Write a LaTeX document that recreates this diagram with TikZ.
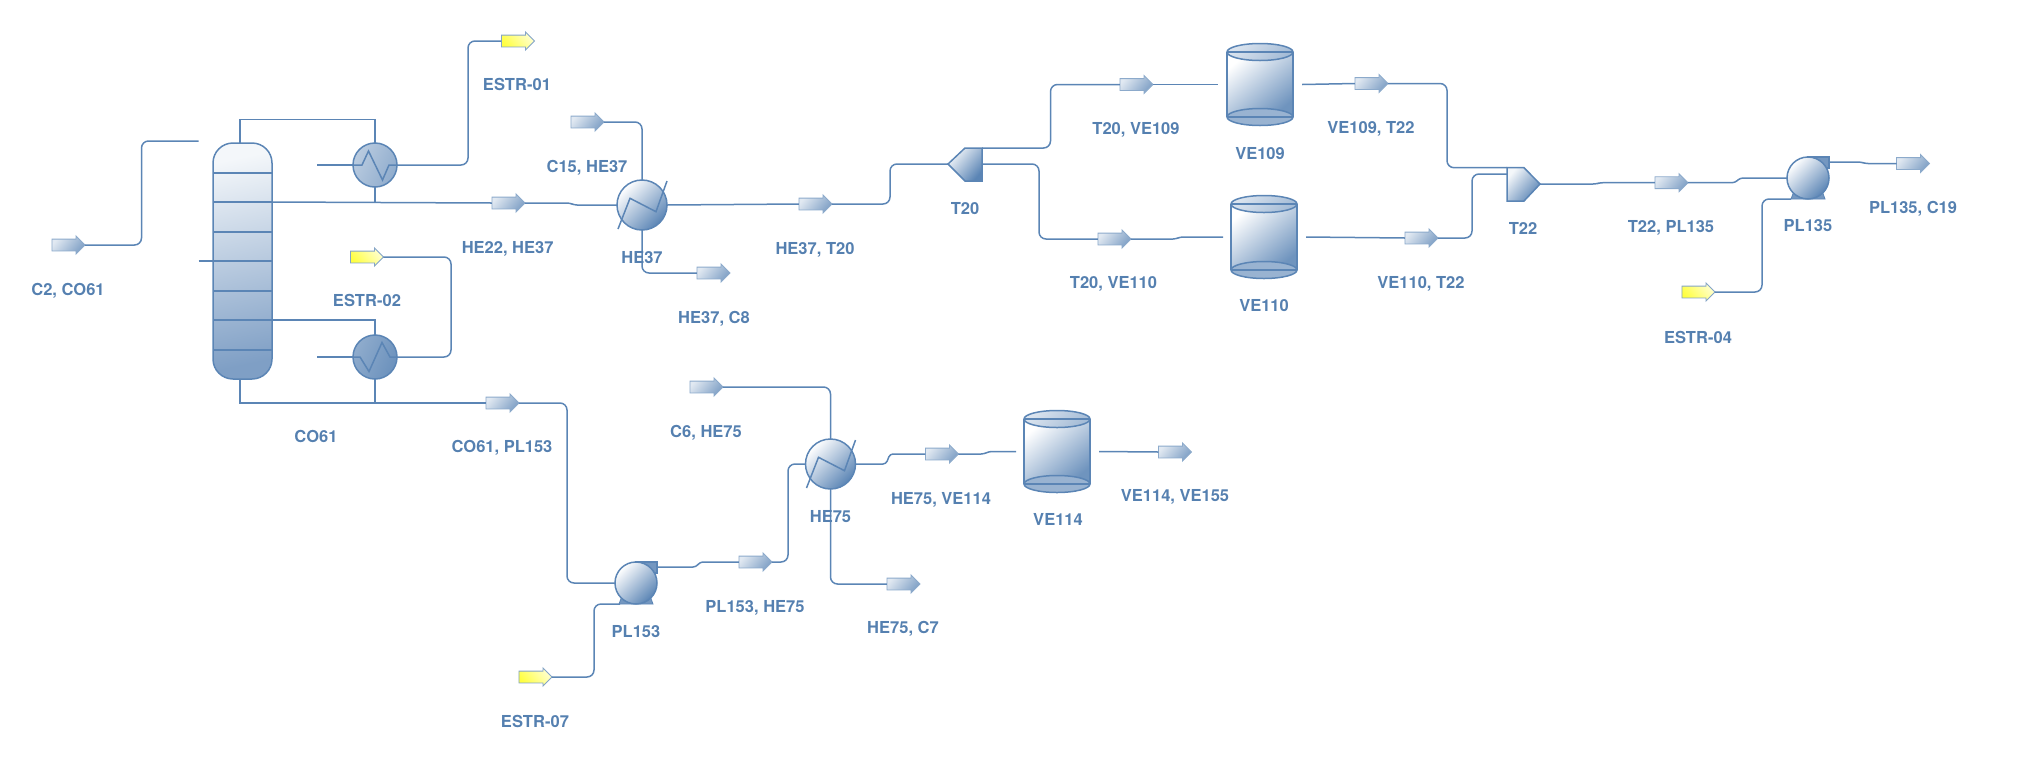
\documentclass[tikz,border=0pt]{standalone}
\usepackage{fontspec}
\setmainfont{TeX Gyre Heros}
\usetikzlibrary{shapes.arrows,calc}
\definecolor{pipec}{HTML}{5B85B5}
\definecolor{txtc}{HTML}{5580B0}
\definecolor{darkb}{HTML}{7F9FC5}
\definecolor{lightb}{HTML}{F4F7FA}
\tikzset{
 pipe/.style={draw=pipec,line width=1.5pt,rounded corners=7pt},
 straight/.style={draw=pipec,line width=1.5pt},
 lbl/.style={font=\fontsize{16.5}{18}\selectfont\bfseries,text=txtc,inner sep=0pt,text height=12pt,text depth=0pt},
 streamarrow/.style={single arrow,single arrow head extend=3pt,minimum width=17pt,minimum height=33pt,inner sep=0pt,outer sep=0pt,line width=.9pt,xshift=-2.5pt},
 bluearrow/.style={streamarrow,draw=pipec!70,top color=pipec!18!white,bottom color=pipec!78!white,shading angle=50},
 yelarrow/.style={streamarrow,draw=pipec!75,top color=yellow!18!white,bottom color=yellow!75!white,shading angle=-50},
 shell/.style={circle,inner sep=0pt,outer sep=0pt,draw=pipec,line width=1.5pt},
 hexa/.style={shell,minimum size=50pt,top color=white,bottom color=pipec,shading angle=45},
 cond/.style={shell,minimum size=44pt,top color=pipec!42!white,bottom color=pipec!68!white,shading angle=65},
 reb/.style={shell,minimum size=44pt,top color=pipec!68!white,bottom color=pipec!90!white,shading angle=65},
 pumpc/.style={shell,minimum size=42pt,top color=white,bottom color=pipec,shading angle=45},
 hold/.style={inner sep=0pt,outer sep=0pt,minimum width=#1,minimum height=1pt},
 part/.style={draw=pipec,line width=1.5pt,fill=darkb},
 inner/.style={draw=pipec,line width=1.5pt,line join=miter},
}
\newcommand{\vesselart}[4]{% cx, cytop, cybottom, rx
 \path[top color=white,bottom color=pipec!88!white,shading angle=40]
   (#1-#4,#2) -- (#1+#4,#2) -- (#1+#4,#3) -- (#1-#4,#3) -- cycle;
 \draw[part,top color=pipec!22!white,bottom color=pipec!55!white,shading angle=45] (#1,#2) ellipse [x radius=#4,y radius=8.5];
 \draw[part,fill=pipec!62!white] (#1,#3) ellipse [x radius=#4,y radius=8.5];
 \draw[straight] (#1-#4,#2) -- (#1+#4,#2) (#1-#4,#3) -- (#1+#4,#3);
 \draw[straight] (#1-#4,#2) -- (#1-#4,#3) (#1+#4,#2) -- (#1+#4,#3);
}
\newcommand{\pumpart}[2]{% centre
 \draw[part,line width=.8pt,fill=pipec!85!white] (#1-17,#2+21) -- (#1-14,#2+13) -- (#1+14,#2+13) -- (#1+17,#2+21) -- cycle;
 \draw[part,fill=pipec!85!white] (#1,#2-21) -- (#1+21,#2-21) -- (#1+21,#2-10) -- (#1,#2-10) -- cycle;
}
\newcommand{\hxart}[1]{%
 \begin{scope}[shift={(#1)}]
 \draw[inner] (-24,24) -- (-12,-6.7) -- (14,6.7) -- (25,-24);
 \end{scope}
}
\newcommand{\shaft}{\vrule width0pt height11pt depth0pt}
\begin{document}
\begin{tikzpicture}[x=1pt,y=-1pt]
\useasboundingbox (0,0) rectangle (2034,764);
% equipment holders
\node[rectangle,rounded corners=20pt,minimum width=59pt,minimum height=236pt,inner sep=0pt,outer sep=0pt,draw=pipec,line width=1.5pt,top color=lightb,bottom color=darkb,shading angle=12] (CO61) at (242.5,261) {};
\node[cond] (cnd) at (375,165) {};
\node[reb] (rbl) at (375,357) {};
\node[hexa] (HE37) at (642,205) {};
\node[hexa] (HE75) at (830.5,464) {};
\node[hold=66pt] (VE109) at (1260,84.5) {};
\node[hold=66pt] (VE110) at (1264,237) {};
\node[hold=66pt] (VE114) at (1057,451.5) {};
% stream arrows
\node[bluearrow] (sC2) at (68,245) {\shaft};
\node[yelarrow] (sE01) at (517.5,41) {\shaft};
\node[bluearrow] (sC15) at (587,122) {\shaft};
\node[bluearrow] (sHE22) at (508,203) {\shaft};
\node[bluearrow] (sC8) at (713,273) {\shaft};
\node[bluearrow] (sHE37T) at (815,204) {\shaft};
\node[yelarrow] (sE02) at (366.5,257) {\shaft};
\node[bluearrow] (sCO) at (502,403) {\shaft};
\node[bluearrow] (sT1) at (1136,84.5) {\shaft};
\node[bluearrow] (sV1) at (1371,83.5) {\shaft};
\node[bluearrow] (sT2) at (1114,239) {\shaft};
\node[bluearrow] (sV2) at (1421,238) {\shaft};
\node[bluearrow] (sT22) at (1671,182.7) {\shaft};
\node[bluearrow] (sPL) at (1912.5,163.5) {\shaft};
\node[yelarrow] (sE04) at (1698,292) {\shaft};
\node[bluearrow] (sC6) at (706,387) {\shaft};
\node[bluearrow] (sPL2) at (755,562) {\shaft};
\node[bluearrow] (sC7) at (903,584) {\shaft};
\node[bluearrow] (sH75) at (941.5,454) {\shaft};
\node[bluearrow] (sV114) at (1174.5,452) {\shaft};
\node[yelarrow] (sE07) at (535,677) {\shaft};
% ports
\coordinate (feedA) at (198.6,141);
\coordinate (feedB) at (198.6,261);
\coordinate (colTop) at (240,143);
\coordinate (colBot) at (240,379);
\coordinate (cndL) at (317,165);
\coordinate (rblL) at (317,357);
\coordinate (T20tip) at (948,164);
\coordinate (T20a) at (982,148);
\coordinate (T20b) at (982,164);
\coordinate (T22tip) at (1540,184);
\coordinate (T22a) at (1507,167.7);
\coordinate (T22b) at (1507,174);
\coordinate (PLa) at (1787,178);
\coordinate (PLb) at (1791,199);
\coordinate (PLo) at (1829,162);
\coordinate (PMa) at (615,583);
\coordinate (PMb) at (620,604);
\coordinate (PMo) at (657,567);
% pipes
\draw[pipe] (sC2.tip) -| (141.5,141) -- (feedA);
\draw[straight] (feedB) -- (CO61.west |- feedB);
\draw[straight] (colTop) |- (375,119.5) -- (cnd.north);
\draw[straight] (cnd.south) -- (375,202);
\draw[straight] (cndL) -- (cnd.west);
\draw[pipe] (cnd.east) -| (468,41) -- (sE01.tail);
\draw[straight] (CO61.east |- 0,202) -- (sHE22.tail);
\draw[pipe,rounded corners=3pt] (sHE22.tip) -- (570,203) -- (574,205) -- (HE37.west);
\draw[pipe] (sC15.tip) -| (HE37.north);
\draw[pipe] (HE37.south) |- (sC8.tail);
\draw[pipe,rounded corners=3pt] (HE37.east) -- (sHE37T.tail);
\draw[pipe] (sHE37T.tip) -- (890,204) -- (890,164) -- (T20tip);
\draw[straight] (CO61.east |- 0,320) -| (rbl.north);
\draw[straight] (rblL) -- (rbl.west);
\draw[pipe] (rbl.east) -| (451,257) -- (sE02.tip);
\draw[straight] (colBot) |- (sCO.tail);
\draw[straight] (rbl.south) -- (375,403);
\draw[pipe] (sCO.tip) -| (567,583) -- (PMa);
\draw[pipe] (sE07.tip) -| (594,604) -- (PMb);
\draw[pipe,rounded corners=3pt] (PMo) -- (696,567) -- (700,562) -- (sPL2.tail);
\draw[pipe] (sPL2.tip) -| (788,464) -- (HE75.west);
\draw[pipe] (sC6.tip) -| (HE75.north);
\draw[pipe] (HE75.south) |- (sC7.tail);
\draw[pipe,rounded corners=3pt] (HE75.east) -- (886,464) -- (890,454) -- (sH75.tail);
\draw[pipe,rounded corners=3pt] (sH75.tip) -- (984,454) -- (989,451.5) -- ([xshift=-8pt]VE114.west);
\draw[pipe,rounded corners=3pt] ([xshift=9pt]VE114.east) -- (sV114.tail);
\draw[pipe] (T20a) -- (1050.5,148) -- (1050.5,84.5) -- (sT1.tail);
\draw[straight] (sT1.tip) -- ([xshift=-9pt]VE109.west);
\draw[pipe] (T20b) -- (1039,164) -- (1039,239) -- (sT2.tail);
\draw[pipe,rounded corners=3pt] (sT2.tip) -- (1176,239) -- (1180,237) -- ([xshift=-8pt]VE110.west);
\draw[straight] ([xshift=9pt]VE109.east) -- (sV1.tail);
\draw[pipe] (sV1.tip) -- (1447,83.5) -- (1447,167.7) -- (T22a);
\draw[straight] ([xshift=9pt]VE110.east) -- (sV2.tail);
\draw[pipe] (sV2.tip) -- (1472,238) -- (1472,174) -- (T22b);
\draw[pipe,rounded corners=3pt] (T22tip) -- (1596,184) -- (1600,182.7) -- (sT22.tail);
\draw[pipe,rounded corners=3pt] (sT22.tip) -- (1735,182.7) -- (1740,178) -- (PLa);
\draw[pipe,rounded corners=3pt] (PLo) -- (1861,162) -- (1865,163.5) -- (sPL.tail);
\draw[pipe] (sE04.tip) -| (1762,199) -- (PLb);
% column trays
\foreach \yy in {173,202,232,261,291,320,350} \draw[straight] (CO61.west |- 0,\yy) -- (CO61.east |- 0,\yy);
% heat exchanger interiors
\begin{scope}[shift={(cnd.center)}]
 \draw[inner] (-22,0) -- (-13,0) -- (-6.5,-14) -- (7.5,15) -- (14,0) -- (22,0);
\end{scope}
\begin{scope}[shift={(rbl.center)}]
 \draw[inner] (-22,0) -- (-15,0) -- (-6,14.5) -- (7,-14.5) -- (15,0) -- (22,0);
\end{scope}
\hxart{HE37.center}
\hxart{HE75.center}
% vessels
\vesselart{1260}{52}{117}{33}
\vesselart{1264}{204}{270}{33}
\vesselart{1057}{419}{484}{33}
% splitter and mixer
\draw[part,line join=miter,top color=lightb,bottom color=pipec,shading angle=50] (948,164) -- (965,148) -- (982,148) -- (982,181) -- (965,181) -- cycle;
\draw[part,line join=miter,top color=lightb,bottom color=pipec,shading angle=50] (1540,184) -- (1524,167.7) -- (1507,167.7) -- (1507,201) -- (1524,201) -- cycle;
% pumps
\pumpart{1808}{178}
\node[pumpc] (PL135) at (1808,178) {};
\pumpart{636}{583}
\node[pumpc] (PL153) at (636,583) {};
% labels
\node[lbl] (l1) at (68,289) {C2, CO61};
\node[lbl] (l2) at (517,84) {ESTR-01};
\node[lbl] (l3) at (587,166) {C15, HE37};
\node[lbl] (l4) at (507.6,247) {HE22, HE37};
\node[lbl] (l5) at (642,257) {HE37};
\node[lbl] (l6) at (714,317) {HE37, C8};
\node[lbl] (l7) at (367,300) {ESTR-02};
\node[lbl] (l8) at (316,436) {CO61};
\node[lbl] (l9) at (502,446) {CO61, PL153};
\node[lbl] (l10) at (815,248) {HE37, T20};
\node[lbl] (l11) at (965,208) {T20};
\node[lbl] (l12) at (1136,128) {T20, VE109};
\node[lbl] (l13) at (1260,153) {VE109};
\node[lbl] (l14) at (1371,127) {VE109, T22};
\node[lbl] (l15) at (1113.5,282) {T20, VE110};
\node[lbl] (l16) at (1264,305) {VE110};
\node[lbl] (l17) at (1421,282) {VE110, T22};
\node[lbl] (l18) at (1523,228) {T22};
\node[lbl] (l19) at (1671,226) {T22, PL135};
\node[lbl] (l20) at (1808,225) {PL135};
\node[lbl] (l21) at (1913,207) {PL135, C19};
\node[lbl] (l22) at (1698,337) {ESTR-04};
\node[lbl] (l23) at (706,431) {C6, HE75};
\node[lbl] (l24) at (830.5,516) {HE75};
\node[lbl] (l25) at (941,498) {HE75, VE114};
\node[lbl] (l26) at (1058,519) {VE114};
\node[lbl] (l27) at (1175,495) {VE114, VE155};
\node[lbl] (l28) at (755,606) {PL153, HE75};
\node[lbl] (l29) at (903,627) {HE75, C7};
\node[lbl] (l30) at (636,631) {PL153};
\node[lbl] (l31) at (535,721) {ESTR-07};
\end{tikzpicture}
\end{document}
